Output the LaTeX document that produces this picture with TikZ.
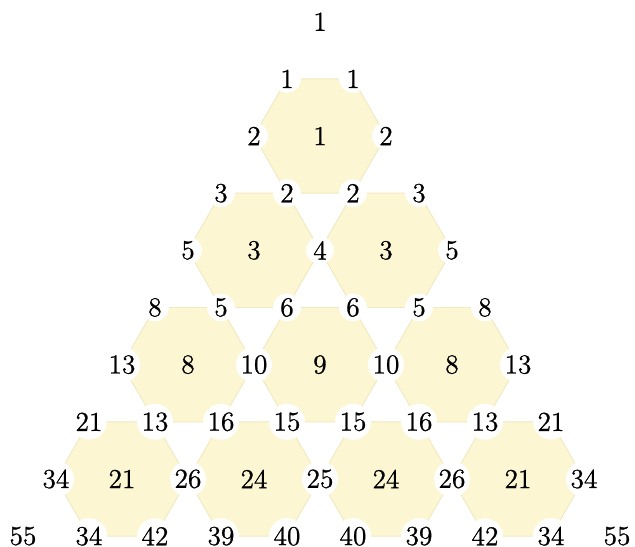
\documentclass[tikz,border=0pt]{standalone}
\usepackage{fontspec}
\setmainfont{Latin Modern Roman}[FakeBold=0.9]
\usetikzlibrary{shapes.geometric}
\definecolor{hexfill}{RGB}{252,247,210}
\definecolor{hexline}{RGB}{240,233,194}
\begin{document}
\begin{tikzpicture}[x=1cm,y=0.866cm,font=\fontsize{11.8}{13}\selectfont,
  hexcell/.style={regular polygon,regular polygon sides=6,minimum size=2cm,
    inner sep=0pt,outer sep=0pt,fill=hexfill,draw=hexline,thin},
  corner/.style={circle,fill=white,inner sep=0.5pt,minimum size=0.42cm},
  edgenum/.style={inner sep=1pt}]
\useasboundingbox (-4.848,2.380) rectangle (4.773,-7.190);
% hexagons with their centre values
\foreach \r/\k/\v in {0/0/1, 1/0/3, 1/1/3, 2/0/8, 2/1/9, 2/2/8,
                      3/0/21, 3/1/24, 3/2/24, 3/3/21}
  \node[hexcell] (hex-\r-\k) at ({2*\k-\r},{-2*\r}) {\v};
% values at the shared corners
\foreach \x/\j/\v [count=\n] in {
   -0.5/-1/1, 0.5/-1/1,
   -1/0/2, 1/0/2,
   -1.5/1/3, -0.5/1/2, 0.5/1/2, 1.5/1/3,
   -2/2/5, 0/2/4, 2/2/5,
   -2.5/3/8, -1.5/3/5, -0.5/3/6, 0.5/3/6, 1.5/3/5, 2.5/3/8,
   -3/4/13, -1/4/10, 1/4/10, 3/4/13,
   -3.5/5/21, -2.5/5/13, -1.5/5/16, -0.5/5/15, 0.5/5/15, 1.5/5/16, 2.5/5/13, 3.5/5/21,
   -4/6/34, -2/6/26, 0/6/25, 2/6/26, 4/6/34,
   -3.5/7/34, -2.5/7/42, -1.5/7/39, -0.5/7/40, 0.5/7/40, 1.5/7/39, 2.5/7/42, 3.5/7/34}
  \node[corner] (v\n) at (\x,-\j) {\v};
% outer values
\node[edgenum] (apex) at (0,2) {1};
\node[edgenum] (left55) at (-4.5,-7) {55};
\node[edgenum] (right55) at (4.5,-7) {55};
\end{tikzpicture}
\end{document}
